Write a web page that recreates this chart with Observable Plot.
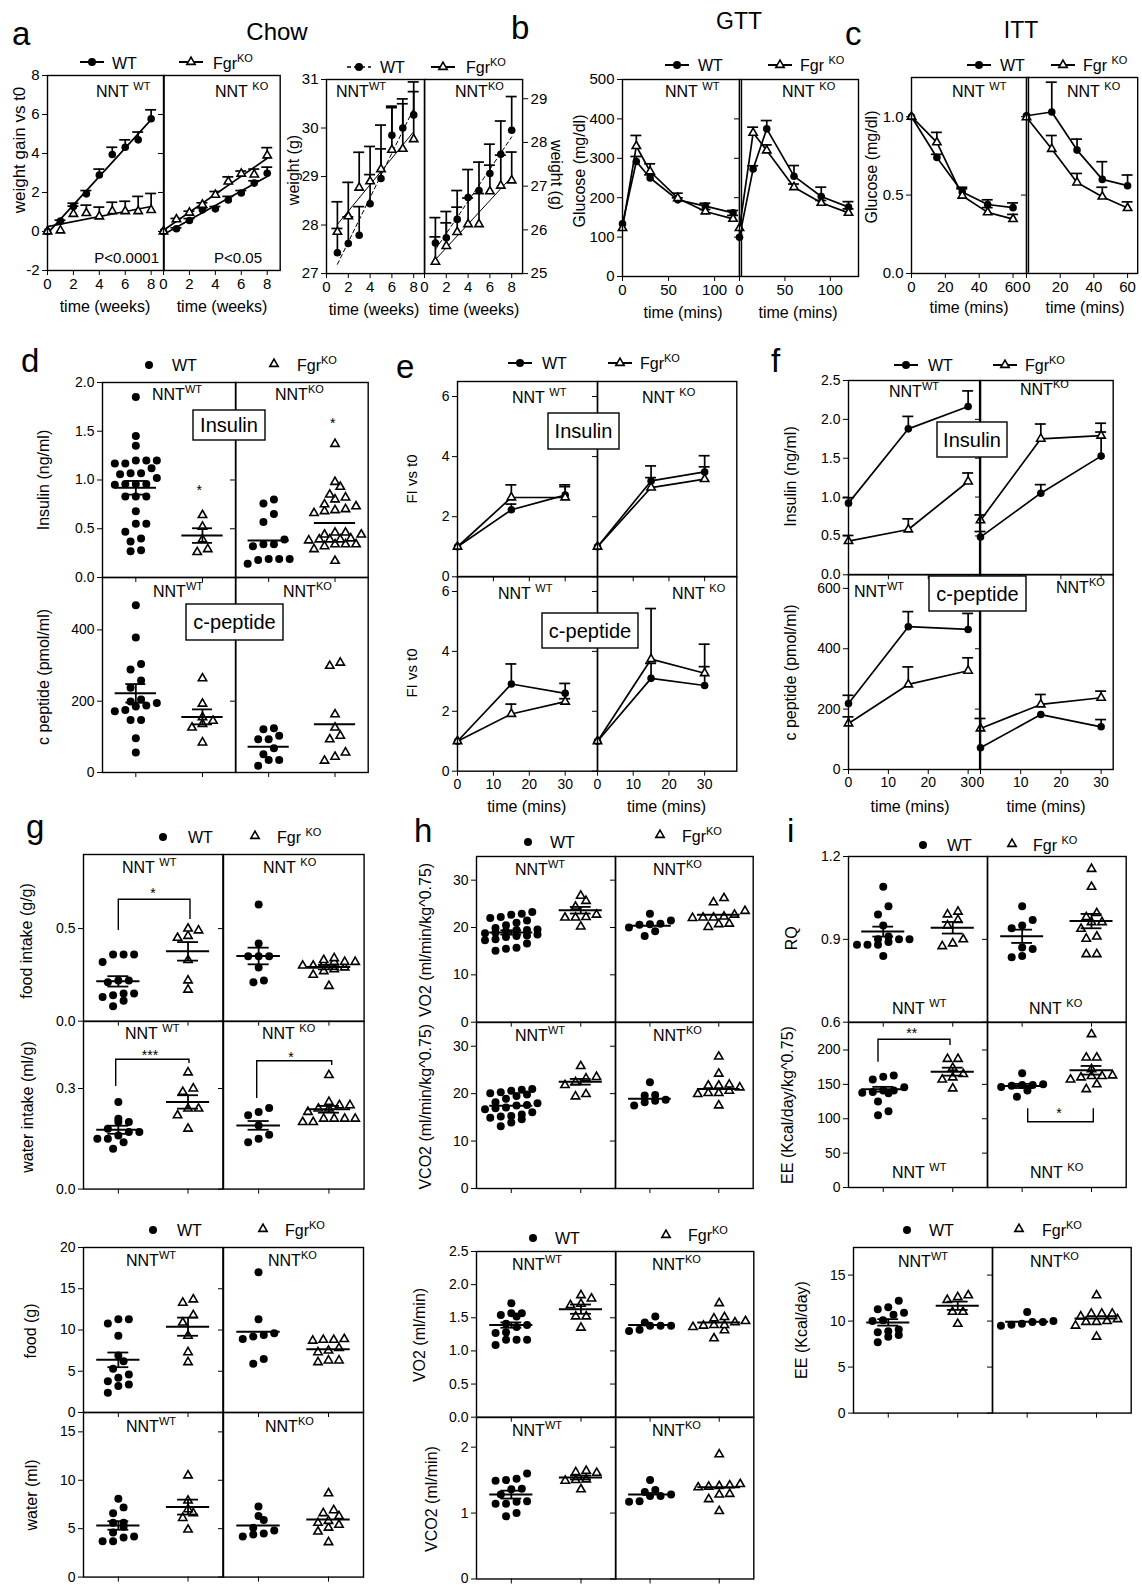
<!DOCTYPE html>
<html><head><meta charset="utf-8">
<script src="https://cdn.jsdelivr.net/npm/d3@7"></script>
<script src="https://cdn.jsdelivr.net/npm/@observablehq/plot@0.6"></script>
<style>
body{margin:0;background:#fff;}
#fig{position:relative;width:1142px;height:1585px;overflow:hidden;background:#fff;}
#fig svg{position:absolute;}
</style></head><body><div id="fig"></div>
<script>
// ================= DATA =================
// naming: n = NNT genotype, f = Fgr genotype ; KO = knockout
// a — weight gain vs t0 (mean, SEM), weeks
const weeks = [0,1,2,3,4,5,6,7,8];
const gain_nWT_fWT = [0,0.53,1.28,1.93,2.9,3.95,4.32,4.7,5.78];
const gain_nWT_fWTsem = [0,0.05,0.17,0.17,0.3,0.37,0.38,0.4,0.46];
const gain_nWT_fKO = [0,0.05,0.9,0.94,0.77,1.04,1.04,1.04,1.1];
const gain_nWT_fKOsem = [0,0,0.4,0.41,0.48,0.46,0.51,0.76,0.85];
const gain_nKO_fWT = [0,0.14,0.56,1.11,1.16,1.62,1.97,2.48,2.99];
const gain_nKO_fWTsem = [0,0.05,0.1,0.1,0.12,0.18,0.13,0.12,0.31];
const gain_nKO_fKO = [0,0.62,0.96,1.37,1.88,2.56,2.96,2.92,3.9];
const gain_nKO_fKOsem = [0,0.05,0.08,0.1,0.17,0.24,0.14,0.28,0.4];
// a — body weight (g)
const weeksW = [1,2,3,4,5,6,7,8];
const wt_nWT_fWT = [27.43,27.62,27.79,28.44,28.96,29.85,30.0,30.27];
const wt_nWT_fWTsem = [0.5,0.55,0.59,0.6,1.1,0.6,0.6,0.68];
const wt_nWT_fKO = [27.86,28.18,28.77,28.9,29.15,29.55,29.57,29.77];
const wt_nWT_fKOsem = [0.62,0.7,0.73,0.72,0.42,0.87,0.93,0.98];
const wt_nKO_fWT = [25.70,25.82,26.24,26.74,26.9,27.29,27.73,28.28];
const wt_nKO_fWTsem = [0.58,0.6,0.66,0.64,0.65,0.67,0.76,0.77];
const wt_nKO_fKO = [25.27,25.63,25.95,26.13,26.13,26.88,27.01,27.13];
const wt_nKO_fKOsem = [0.57,0.53,0.57,0.6,0.7,0.6,0.7,0.65];
// b — GTT glucose (mg/dl)
const gttMin = [0,15,30,60,90,120];
const gtt_nWT_fWT = [133.7,292,250,194.6,178.5,161.6];
const gtt_nWT_fWTsem = [0,12.6,8,5,7.5,6];
const gtt_nWT_fKO = [122.7,331,266.5,198.8,165,146.4];
const gtt_nWT_fKOsem = [0,27,19.5,12.7,5,8.6];
const gtt_nKO_fWT = [99.8,273,374.8,254.6,203,176];
const gtt_nKO_fWTsem = [0,8,21,27,23.7,14];
const gtt_nKO_fKO = [122.7,364.6,319.8,226.7,187,161.6];
const gtt_nKO_fKOsem = [0,14.4,14.2,8,6,10];
// c — ITT glucose (relative)
const ittMin = [0,15,30,45,60];
const itt_nWT_fWT = [1.0,0.74,0.52,0.44,0.42];
const itt_nWT_fWTsem = [0,0.02,0.02,0.03,0.03];
const itt_nWT_fKO = [1.0,0.836,0.496,0.39,0.347];
const itt_nWT_fKOsem = [0,0.064,0.054,0.03,0.03];
const itt_nKO_fWT = [1.006,1.03,0.787,0.6,0.56];
const itt_nKO_fWTsem = [0,0.19,0.07,0.113,0.068];
const itt_nKO_fKO = [0.996,0.794,0.58,0.49,0.417];
const itt_nKO_fKOsem = [0,0.086,0.058,0.06,0.04];
// e — fold increase vs t0
const secMin = [0,15,30];
const fiIns_nWT_fWT = [1,2.23,2.72], fiIns_nWT_fWTsem = [0,0.19,0.34];
const fiIns_nWT_fKO = [1,2.64,2.64], fiIns_nWT_fKOsem = [0,0.42,0.36];
const fiIns_nKO_fWT = [1,3.19,3.49], fiIns_nKO_fWTsem = [0,0.5,0.54];
const fiIns_nKO_fKO = [1,2.97,3.25], fiIns_nKO_fKOsem = [0,0.33,0.41];
const fiCp_nWT_fWT = [1,2.91,2.6], fiCp_nWT_fWTsem = [0,0.67,0.33];
const fiCp_nWT_fKO = [1,1.91,2.32], fiCp_nWT_fKOsem = [0,0.33,0.1];
const fiCp_nKO_fWT = [1,3.1,2.86], fiCp_nKO_fWTsem = [0,0.5,0.63];
const fiCp_nKO_fKO = [1,3.74,3.27], fiCp_nKO_fKOsem = [0,1.69,0.97];
// f — insulin (ng/ml) and c-peptide (pmol/ml) during GSIS
const secIns_nWT_fWT = [0.922,1.878,2.166], secIns_nWT_fWTsem = [0.07,0.16,0.2];
const secIns_nWT_fKO = [0.433,0.583,1.2], secIns_nWT_fKOsem = [0.073,0.137,0.11];
const secIns_nKO_fWT = [0.485,1.05,1.527], secIns_nKO_fWTsem = [0.072,0.11,0.31];
const secIns_nKO_fKO = [0.70,1.75,1.79], secIns_nKO_fKOsem = [0.07,0.19,0.16];
const secCp_nWT_fWT = [218.8,473,464], secCp_nWT_fWTsem = [27,50,53];
const secCp_nWT_fKO = [152.5,281.8,327], secCp_nWT_fKOsem = [22,58,43];
const secCp_nKO_fWT = [71.8,182,141.4], secCp_nKO_fWTsem = [0,0,24];
const secCp_nKO_fKO = [136,215.5,237.6], secCp_nKO_fKOsem = [33,33,22];
// group order for scatter summaries: [nWT_fWT, nWT_fKO, nKO_fWT, nKO_fKO]
// d — fasting insulin (ng/ml)
const ins_nWT_fWT = [1.85,1.45,1.35,1.20,1.17,1.17,1.20,1.20,1.07,1.06,1.07,1.12,1.02,0.96,0.95,0.96,0.96,0.83,0.83,0.83,0.68,0.55,0.55,0.47,0.40,0.37,0.27,0.28];
const ins_nWT_fKO = [0.64,0.52,0.39,0.26,0.29];
const ins_nKO_fWT = [0.80,0.76,0.65,0.57,0.39,0.34,0.34,0.32,0.19,0.19,0.18,0.19,0.14];
const ins_nKO_fKO = [1.37,0.98,0.93,0.85,0.82,0.80,0.75,0.73,0.70,0.69,0.68,0.66,0.46,0.46,0.44,0.44,0.40,0.39,0.39,0.38,0.39,0.34,0.34,0.32,0.34,0.29,0.17];
const ins_mean = [0.92,0.43,0.38,0.56], ins_sem = [0.07,0.075,0,0];
// d — fasting c-peptide (pmol/ml)
const cp_nWT_fWT = [469,379,304,289,258,238,205,199,195,188,185,175,172,147,147,96,56];
const cp_nWT_fKO = [264,193,155,136,126,145,84];
const cp_nKO_fWT = [124,121,103,93,93,68,51,35,35,19];
const cp_nKO_fKO = [308,299,163,126,103,93,56,44,33];
const cp_mean = [222,156,72,135], cp_sem = [26,21,0,0];
// g — food intake (g/g)
const fi_nWT_fWT = [0.36,0.36,0.36,0.32,0.22,0.22,0.21,0.15,0.15,0.14,0.13,0.11,0.08];
const fi_nWT_fKO = [0.5,0.49,0.46,0.45,0.33,0.22,0.17];
const fi_nKO_fWT = [0.63,0.42,0.35,0.35,0.35,0.29,0.21,0.22];
const fi_nKO_fKO = [0.34,0.33,0.32,0.32,0.32,0.31,0.30,0.30,0.29,0.28,0.27,0.25,0.19];
const fi_mean = [0.215,0.377,0.352,0.292], fi_sem = [0.028,0.05,0.045,0.012];
// g — water intake (ml/g)
const wi_nWT_fWT = [0.26,0.21,0.2,0.2,0.18,0.17,0.17,0.16,0.15,0.15,0.14,0.12];
const wi_nWT_fKO = [0.348,0.29,0.30,0.24,0.24,0.22,0.18];
const wi_nKO_fWT = [0.242,0.23,0.22,0.19,0.162,0.15,0.14];
const wi_nKO_fKO = [0.34,0.26,0.25,0.25,0.24,0.24,0.23,0.21,0.21,0.21,0.21,0.20,0.20];
const wi_mean = [0.177,0.26,0.19,0.238], wi_sem = [0.012,0.02,0.013,0.01];
// h — VO2 (ml/min/kg^0.75)
const vo2n_nWT_fWT = [23.3,22.9,22.7,22.2,22.0,21.5,21.0,20.5,19.9,19.6,19.5,19.5,19.2,18.9,18.8,18.5,18.3,18.2,18.0,17.5,17.3,16.6,15.7,15.5,15.1];
const vo2n_nWT_fKO = [26.7,25.6,24.4,22.7,22.1,22.1,22.2,20.2];
const vo2n_nKO_fWT = [22.9,21.5,20.8,20.7,20.6,20.0,19.2,18.2];
const vo2n_nKO_fKO = [26.2,25.3,23.5,22.7,22.3,22.1,22.1,22.0,20.8,20.7,20.1];
const vo2n_mean = [18.95,23.65,20.35,22.67], vo2n_sem = [0.45,0.7,0,0];
// h — VCO2 (ml/min/kg^0.75)
const vco2n_nWT_fWT = [21.0,20.8,20.6,20.3,20.1,19.8,19.5,18.9,18.2,18.0,17.6,17.5,17.1,16.9,16.7,16.1,15.6,15.3,15.2,14.9,14.6,13.9,13.1];
const vco2n_nWT_fKO = [25.8,23.5,23.2,22.4,21.8,19.9,19.4];
const vco2n_nKO_fWT = [22.4,19.7,19.6,18.7,18.5,18.2,17.5];
const vco2n_nKO_fKO = [27.8,24.2,21.9,21.7,21.7,21.3,20.6,20.1,20.1,19.9,17.5];
const vco2n_mean = [17.46,22.5,18.9,21.0], vco2n_sem = [0,0.6,0,0];
// i — RQ
const rq_nWT_fWT = [1.09,1.02,0.99,0.95,0.90,0.90,0.91,0.90,0.89,0.88,0.88,0.88,0.84];
const rq_nWT_fKO = [1.00,0.97,0.99,0.95,0.90,0.875,0.885];
const rq_nKO_fWT = [1.02,0.95,0.94,0.97,0.87,0.865,0.835,0.84];
const rq_nKO_fKO = [1.155,1.09,0.962,0.98,0.995,0.962,0.938,0.902,0.91,0.846,0.846];
const rq_mean = [0.928,0.942,0.911,0.966], rq_sem = [0.018,0.021,0.024,0.026];
// i — EE (Kcal/day/kg^0.75)
const een_nWT_fWT = [163,161,157,146,141,141,139,138,137,125,111,105];
const een_nWT_fKO = [187,187,174,165,157,160,144];
const een_nKO_fWT = [166,150,149,149,148,146,141,132];
const een_nKO_fKO = [223,189,189,163,162,162,160,157,150,143,172];
const een_mean = [142.9,168.5,147.7,170.5], een_sem = [3.5,5.8,3,6.3];
// bottom row — food (g), water (ml)
const food_nWT_fWT = [11.3,10.8,11.3,9.3,6.9,6.2,3.8,4.6,5.3,4.2,3.4,3.2,2.4];
const food_nWT_fKO = [13.7,13.3,11.8,10.9,9.3,7.3,6.1];
const food_nKO_fWT = [17.0,11.3,9.2,9.6,8.9,9.4,6.5,5.9];
const food_nKO_fKO = [8.7,8.9,8.8,8.8,7.3,7.5,7.8,6.1,6.3,6.3];
const food_mean = [6.38,10.4,9.78,7.68], food_sem = [0.89,1.1,0,0];
const water_nWT_fWT = [8.1,6.6,7.2,5.6,5.6,5.2,4.6,4.2,4.1,3.7,3.7];
const water_nWT_fKO = [10.5,7.9,7.0,6.6,6.1,4.9];
const water_nKO_fWT = [7.3,5.9,6.3,5.1,4.8,4.4,4.5,4.2];
const water_nKO_fKO = [8.65,6.6,6.3,6.9,5.8,5.1,5.6,5.4,4.7,3.6];
const water_mean = [5.33,7.23,5.33,5.94], water_sem = [0.44,0.77,0,0];
// bottom row — VO2 / VCO2 (ml/min)
const vo2_nWT_fWT = [1.72,1.57,1.52,1.54,1.57,1.28,1.41,1.36,1.39,1.27,1.17,1.17,1.17,1.09];
const vo2_nWT_fKO = [1.84,1.71,1.69,1.79,1.52,1.52,1.35];
const vo2_nKO_fWT = [1.52,1.32,1.38,1.38,1.43,1.30,1.38];
const vo2_nKO_fKO = [1.72,1.45,1.38,1.39,1.51,1.39,1.49,1.36,1.19,1.31,1.43];
const vo2_mean = [1.39,1.63,1.39,1.43], vo2_sem = [0.04,0.07,0,0];
const vco2_nWT_fWT = [1.60,1.50,1.49,1.52,1.36,1.37,1.28,1.14,1.14,1.18,1.17,0.95,1.0];
const vco2_nWT_fKO = [1.61,1.64,1.62,1.50,1.51,1.49,1.36];
const vco2_nKO_fWT = [1.50,1.35,1.18,1.28,1.26,1.26,1.32,1.17];
const vco2_nKO_fKO = [1.89,1.42,1.44,1.40,1.41,1.39,1.29,1.21,1.28,1.03];
const vco2_mean = [1.28,1.54,1.28,1.39], vco2_sem = [0.06,0.03,0,0];
// bottom row — EE (Kcal/day)
const ee_nWT_fWT = [12.2,11.3,11.5,10.9,10.7,10.0,10.1,9.1,8.9,8.8,8.5,8.3,7.7];
const ee_nWT_fKO = [12.6,12.8,12.3,11.0,11.0,9.7];
const ee_nKO_fWT = [11.0,9.7,10.0,9.9,9.9,9.5,9.6];
const ee_nKO_fKO = [12.8,10.8,10.8,10.8,10.5,10.2,9.9,10.0,9.9,9.5,8.3];
const ee_mean = [9.86,11.67,9.93,10.29], ee_sem = [0.35,0.45,0,0];

// ================= DRAWING =================
const FONT = "'Liberation Sans', Arial, Helvetica, sans-serif";
const fig = document.getElementById("fig");
const f1 = d3.format(".1f");

function framePlot(o) {
  const M = 50;
  const [left, top, w, h] = o.box;
  const p = Plot.plot({
    width: w + 2 * M, height: h + 2 * M,
    marginLeft: M, marginRight: M, marginTop: M, marginBottom: M,
    style: {background: "none", overflow: "visible", fontFamily: FONT, fontSize: (o.fs || 14) + "px", color: "#000"},
    x: o.xt ? {domain: o.xd, ticks: o.xt, tickSize: 5, tickPadding: 3, label: null,
               tickFormat: o.xl ? (d => String(d)) : () => ""} : {domain: o.xd, axis: null},
    y: {domain: o.yd, ticks: o.yt, tickSize: 5, tickPadding: 3, label: null, axis: o.yAxis || "left",
        tickFormat: o.yl ? (o.yf || (d => String(d))) : () => ""},
    marks: [...o.marks, Plot.frame({stroke: "#000", strokeWidth: 1.4})]
  });
  p.style.left = (left - M) + "px";
  p.style.top = (top - M) + "px";
  fig.appendChild(p);
}

// scatter-dot layout: values that fall within one row height are spread symmetrically side by side
function swarm(vals, cat, yd, h, pxPerX, step, rowH, maxCols) {
  const sy = v => (v - yd[0]) / (yd[1] - yd[0]) * h;
  const s = vals.map(v => ({v, y: sy(v)})).sort((a, b) => a.y - b.y);
  const out = [];
  let i = 0;
  while (i < s.length) {
    let j = i;
    while (j < s.length && s[j].y - s[i].y < rowH && j - i < maxCols) j++;
    const n = j - i;
    s.slice(i, j).forEach((p, k) => out.push({v: p.v, x: cat + (k - (n - 1) / 2) * step / pxPerX}));
    i = j;
  }
  return out;
}

function dotMark(data, x, y, sym, r) {
  return sym === "circle"
    ? Plot.dot(data, {x, y, symbol: "circle", r: r || 4, fill: "#000", stroke: "none"})
    : Plot.dot(data, {x, y, symbol: "triangle", r: r || 3.1, fill: "#fff", stroke: "#000", strokeWidth: 1.6});
}

function scatterFrame(box, yd, yt, yl, yf, groups) {
  const [left, top, w, h] = box;
  const marks = [];
  for (const g of groups) {
    const pts = swarm(g.vals, g.cat, yd, h, w / 4, 10.5, 8.5, 6);
    marks.push(dotMark(pts, "x", "v", g.sym));
  }
  for (const g of groups) {
    marks.push(Plot.ruleY([g.mean], {x1: g.cat - 0.62, x2: g.cat + 0.62, strokeWidth: 2}));
    if (g.sem > 0) {
      marks.push(Plot.ruleX([g.cat], {y1: g.mean - g.sem, y2: g.mean + g.sem, strokeWidth: 1.8}));
      marks.push(Plot.ruleY([g.mean - g.sem, g.mean + g.sem], {x1: g.cat - 0.3, x2: g.cat + 0.3, strokeWidth: 1.8}));
    }
  }
  framePlot({box, xd: [0, 4], xt: [1, 3], xl: false, yd, yt, yl, yf, marks});
}

function scatterPair(boxL, boxR, yd, yt, yf, g, means, sems) {
  scatterFrame(boxL, yd, yt, true, yf, [
    {vals: g[0], mean: means[0], sem: sems[0], cat: 1, sym: "circle"},
    {vals: g[1], mean: means[1], sem: sems[1], cat: 3, sym: "triangle"}]);
  scatterFrame(boxR, yd, yt, false, yf, [
    {vals: g[2], mean: means[2], sem: sems[2], cat: 1, sym: "circle"},
    {vals: g[3], mean: means[3], sem: sems[3], cat: 3, sym: "triangle"}]);
}

function linreg(xs, ys) {
  const mx = d3.mean(xs), my = d3.mean(ys);
  const b = d3.sum(xs, (x, i) => (x - mx) * (ys[i] - my)) / d3.sum(xs, x => (x - mx) ** 2);
  return [my - b * mx, b];
}

function lineFrame(o) {
  const [left, top, w, h] = o.box;
  const cap = 5.5 * (o.xd[1] - o.xd[0]) / w;
  const marks = [];
  for (const s of o.series) {
    const pts = s.x.map((x, i) => ({x, y: s.y[i], t: s.y[i] + s.s[i]}));
    if (s.fit) {
      const [a, b] = linreg(s.x, s.y);
      const ext = d3.extent(s.x);
      marks.push(Plot.line(ext.map(x => ({x, y: a + b * x})), {x: "x", y: "y", strokeWidth: s.fitW || 1.7, strokeDasharray: s.dash}));
    } else {
      marks.push(Plot.line(pts, {x: "x", y: "y", strokeWidth: 1.7}));
    }
    const eb = pts.filter(p => p.t > p.y);
    marks.push(Plot.ruleX(eb, {x: "x", y1: "y", y2: "t", strokeWidth: 1.7}));
    marks.push(Plot.ruleY(eb, {y: "t", x1: p => p.x - cap, x2: p => p.x + cap, strokeWidth: 1.7}));
  }
  for (const s of o.series) {
    const pts = s.x.map((x, i) => ({x, y: s.y[i]}));
    marks.push(dotMark(pts, "x", "y", s.sym, s.sym === "circle" ? 3.8 : 3.1));
  }
  framePlot({...o, marks});
}
const S = (x, y, s, sym, extra) => ({x, y, s, sym, ...(extra || {})});

// ---- a: weight gain ----
const xa = {xd: [0, 9], xt: [0, 2, 4, 6, 8], xl: true, fs: 15};
lineFrame({...xa, box: [46.7, 75, 116.6, 195], yd: [-2, 8], yt: [-2, 0, 2, 4, 6, 8], yl: true, series: [
  S(weeks, gain_nWT_fWT, gain_nWT_fWTsem, "circle", {fit: true}),
  S(weeks, gain_nWT_fKO, gain_nWT_fKOsem, "triangle", {fit: true})]});
lineFrame({...xa, box: [163.3, 75, 116.7, 195], yd: [-2, 8], yt: [-2, 0, 2, 4, 6, 8], yl: false, series: [
  S(weeks, gain_nKO_fWT, gain_nKO_fWTsem, "circle", {fit: true}),
  S(weeks, gain_nKO_fKO, gain_nKO_fKOsem, "triangle", {fit: true})]});
// ---- a: body weight ----
lineFrame({...xa, box: [326.2, 79.2, 98.1, 194.1], yd: [27, 31], yt: [27, 28, 29, 30, 31], yl: true, series: [
  S(weeksW, wt_nWT_fWT, wt_nWT_fWTsem, "circle", {fit: true, fitW: 1, dash: "4,3"}),
  S(weeksW, wt_nWT_fKO, wt_nWT_fKOsem, "triangle", {fit: true, fitW: 1})]});
lineFrame({...xa, box: [424.3, 79.2, 98.1, 194.1], yd: [25, 29.44], yt: [25, 26, 27, 28, 29], yl: true, yAxis: "right", series: [
  S(weeksW, wt_nKO_fWT, wt_nKO_fWTsem, "circle", {fit: true, fitW: 1, dash: "4,3"}),
  S(weeksW, wt_nKO_fKO, wt_nKO_fKOsem, "triangle", {fit: true, fitW: 1})]});
// ---- b: GTT ----
lineFrame({box: [622, 79, 117, 197], xd: [0, 127], xt: [0, 50, 100], xl: true, fs: 15, yd: [0, 500], yt: [0, 100, 200, 300, 400, 500], yl: true, series: [
  S(gttMin, gtt_nWT_fWT, gtt_nWT_fWTsem, "circle"), S(gttMin, gtt_nWT_fKO, gtt_nWT_fKOsem, "triangle")]});
lineFrame({box: [739, 79, 119, 197], xd: [0, 131], xt: [0, 50, 100], xl: true, fs: 15, yd: [0, 500], yt: [0, 100, 200, 300, 400, 500], yl: false, series: [
  S(gttMin, gtt_nKO_fWT, gtt_nKO_fWTsem, "circle"), S(gttMin, gtt_nKO_fKO, gtt_nKO_fKOsem, "triangle")]});
// ---- c: ITT ----
lineFrame({box: [910.7, 76.7, 115.1, 196], xd: [0, 68], xt: [0, 20, 40, 60], xl: true, fs: 15, yd: [0, 1.25], yt: [0, 0.5, 1], yf: f1, yl: true, series: [
  S(ittMin, itt_nWT_fWT, itt_nWT_fWTsem, "circle"), S(ittMin, itt_nWT_fKO, itt_nWT_fKOsem, "triangle")]});
lineFrame({box: [1025.8, 76.7, 111.2, 196], xd: [0, 66], xt: [0, 20, 40, 60], xl: true, fs: 15, yd: [0, 1.25], yt: [0, 0.5, 1], yl: false, series: [
  S(ittMin, itt_nKO_fWT, itt_nKO_fWTsem, "circle"), S(ittMin, itt_nKO_fKO, itt_nKO_fKOsem, "triangle")]});
// ---- d ----
scatterPair([101.7, 381.7, 133.3, 195], [235, 381.7, 132.7, 195], [0, 2], [0, 0.5, 1, 1.5, 2], f1,
  [ins_nWT_fWT, ins_nWT_fKO, ins_nKO_fWT, ins_nKO_fKO], ins_mean, ins_sem);
scatterPair([101.7, 576.7, 133.3, 195], [235, 576.7, 132.7, 195], [0, 547], [0, 200, 400], null,
  [cp_nWT_fWT, cp_nWT_fKO, cp_nKO_fWT, cp_nKO_fKO], cp_mean, cp_sem);
// ---- e ----
const xe = {xd: [0, 39], xt: [0, 10, 20, 30], yd: [0, 6.5], yt: [0, 2, 4, 6]};
lineFrame({...xe, box: [456.7, 380.7, 140, 195.3], xl: false, yl: true, series: [
  S(secMin, fiIns_nWT_fWT, fiIns_nWT_fWTsem, "circle"), S(secMin, fiIns_nWT_fKO, fiIns_nWT_fKOsem, "triangle")]});
lineFrame({...xe, box: [596.7, 380.7, 139.3, 195.3], xl: false, yl: false, series: [
  S(secMin, fiIns_nKO_fWT, fiIns_nKO_fWTsem, "circle"), S(secMin, fiIns_nKO_fKO, fiIns_nKO_fKOsem, "triangle")]});
lineFrame({...xe, box: [456.7, 576, 140, 194.7], xl: true, yl: true, series: [
  S(secMin, fiCp_nWT_fWT, fiCp_nWT_fWTsem, "circle"), S(secMin, fiCp_nWT_fKO, fiCp_nWT_fKOsem, "triangle")]});
lineFrame({...xe, box: [596.7, 576, 139.3, 194.7], xl: true, yl: false, series: [
  S(secMin, fiCp_nKO_fWT, fiCp_nKO_fWTsem, "circle"), S(secMin, fiCp_nKO_fKO, fiCp_nKO_fKOsem, "triangle")]});
// ---- f ----
const xf = {xd: [0, 33], xt: [0, 10, 20, 30]};
lineFrame({...xf, box: [847.7, 380, 131.6, 194.3], xl: false, yd: [0, 2.5], yt: [0, 0.5, 1, 1.5, 2, 2.5], yf: f1, yl: true, series: [
  S(secMin, secIns_nWT_fWT, secIns_nWT_fWTsem, "circle"), S(secMin, secIns_nWT_fKO, secIns_nWT_fKOsem, "triangle")]});
lineFrame({...xf, box: [980, 380, 132.7, 194.3], xl: false, yd: [0, 2.5], yt: [0, 0.5, 1, 1.5, 2, 2.5], yl: false, series: [
  S(secMin, secIns_nKO_fWT, secIns_nKO_fWTsem, "circle"), S(secMin, secIns_nKO_fKO, secIns_nKO_fKOsem, "triangle")]});
lineFrame({...xf, box: [847.7, 574.3, 131.6, 195], xl: true, yd: [0, 646], yt: [0, 200, 400, 600], yl: true, series: [
  S(secMin, secCp_nWT_fWT, secCp_nWT_fWTsem, "circle"), S(secMin, secCp_nWT_fKO, secCp_nWT_fKOsem, "triangle")]});
lineFrame({...xf, box: [980, 574.3, 132.7, 195], xl: true, yd: [0, 646], yt: [0, 200, 400, 600], yl: false, series: [
  S(secMin, secCp_nKO_fWT, secCp_nKO_fWTsem, "circle"), S(secMin, secCp_nKO_fKO, secCp_nKO_fKOsem, "triangle")]});
// ---- g ----
scatterPair([83.3, 854, 139.4, 166.7], [222.7, 854, 140.6, 166.7], [0, 0.9], [0, 0.5], f1,
  [fi_nWT_fWT, fi_nWT_fKO, fi_nKO_fWT, fi_nKO_fKO], fi_mean, fi_sem);
scatterPair([83.3, 1020.7, 139.4, 167.6], [222.7, 1020.7, 140.6, 167.6], [0, 0.5], [0, 0.3], f1,
  [wi_nWT_fWT, wi_nWT_fKO, wi_nKO_fWT, wi_nKO_fKO], wi_mean, wi_sem);
// ---- h ----
scatterPair([476, 856, 139, 165.7], [615, 856, 137.7, 165.7], [0, 35], [0, 10, 20, 30], null,
  [vo2n_nWT_fWT, vo2n_nWT_fKO, vo2n_nKO_fWT, vo2n_nKO_fKO], vo2n_mean, vo2n_sem);
scatterPair([476, 1021.7, 139, 166], [615, 1021.7, 137.7, 166], [0, 35], [0, 10, 20, 30], null,
  [vco2n_nWT_fWT, vco2n_nWT_fKO, vco2n_nKO_fWT, vco2n_nKO_fKO], vco2n_mean, vco2n_sem);
// ---- i ----
scatterPair([848.3, 856, 139, 165.7], [987.3, 856, 138.7, 165.7], [0.6, 1.2], [0.6, 0.9, 1.2], f1,
  [rq_nWT_fWT, rq_nWT_fKO, rq_nKO_fWT, rq_nKO_fKO], rq_mean, rq_sem);
scatterPair([848.3, 1021.7, 139, 165], [987.3, 1021.7, 138.7, 165], [0, 240], [0, 50, 100, 150, 200], null,
  [een_nWT_fWT, een_nWT_fKO, een_nKO_fWT, een_nKO_fKO], een_mean, een_sem);
// ---- bottom row ----
scatterPair([83.3, 1246.7, 139.4, 165], [222.7, 1246.7, 140, 165], [0, 20], [0, 5, 10, 15, 20], null,
  [food_nWT_fWT, food_nWT_fKO, food_nKO_fWT, food_nKO_fKO], food_mean, food_sem);
scatterPair([83.3, 1411.7, 139.4, 164.6], [222.7, 1411.7, 140, 164.6], [0, 17], [0, 5, 10, 15], null,
  [water_nWT_fWT, water_nWT_fKO, water_nKO_fWT, water_nKO_fKO], water_mean, water_sem);
scatterPair([475.7, 1251, 139.3, 165.7], [615, 1251, 138.3, 165.7], [0, 2.5], [0, 0.5, 1, 1.5, 2, 2.5], f1,
  [vo2_nWT_fWT, vo2_nWT_fKO, vo2_nKO_fWT, vo2_nKO_fKO], vo2_mean, vo2_sem);
scatterPair([475.7, 1416.7, 139.3, 161.5], [615, 1416.7, 138.3, 161.5], [0, 2.45], [0, 1, 2], null,
  [vco2_nWT_fWT, vco2_nWT_fKO, vco2_nKO_fWT, vco2_nKO_fKO], vco2_mean, vco2_sem);
scatterPair([853.3, 1246.7, 139, 165.6], [992.3, 1246.7, 138.7, 165.6], [0, 18], [0, 5, 10, 15], null,
  [ee_nWT_fWT, ee_nWT_fKO, ee_nKO_fWT, ee_nKO_fKO], ee_mean, ee_sem);

// ================= ANNOTATION LAYER =================
const ov = d3.select(fig).append("svg").attr("width", 1142).attr("height", 1585)
  .style("left", "0px").style("top", "0px").attr("font-family", FONT).attr("fill", "#000");
function T(x, y, s, size, anchor) {
  return ov.append("text").attr("x", x).attr("y", y).attr("font-size", size).attr("text-anchor", anchor || "start").text(s);
}
function TS(x, y, base, sup, size, space) {
  const t = ov.append("text").attr("x", x).attr("y", y).attr("font-size", size);
  t.append("tspan").text(base + (space ? "\u00A0" : ""));
  t.append("tspan").attr("dy", -size * 0.42).attr("font-size", Math.round(size * 0.7)).text(sup);
  return t;
}
function VT(x, y, s, size, rot) {
  ov.append("text").attr("transform", `translate(${x},${y}) rotate(${rot || -90})`)
    .attr("text-anchor", "middle").attr("dy", "0.35em").attr("font-size", size).text(s);
}
function marker(cx, cy, sym) {
  if (sym === "circle") ov.append("circle").attr("cx", cx).attr("cy", cy).attr("r", 4).attr("fill", "#000");
  else ov.append("path").attr("d", d3.symbol(d3.symbolTriangle, Math.PI * 3.1 * 3.1)())
    .attr("transform", `translate(${cx},${cy})`).attr("fill", "#fff").attr("stroke", "#000").attr("stroke-width", 1.6);
}
function lineSym(cx, cy, sym, dash) {
  ov.append("line").attr("x1", cx - 12).attr("x2", cx + 12).attr("y1", cy).attr("y2", cy)
    .attr("stroke", "#000").attr("stroke-width", dash ? 1.3 : 2).attr("stroke-dasharray", dash ? "4,3" : null);
  marker(cx, cy, sym);
}
function box(x, y, w, h, s) {
  ov.append("rect").attr("x", x).attr("y", y).attr("width", w).attr("height", h)
    .attr("fill", "#fff").attr("stroke", "#000").attr("stroke-width", 1.4);
  T(x + w / 2, y + h / 2 + 7, s, 20, "middle");
}
function bracket(d) { ov.append("path").attr("d", d).attr("fill", "none").attr("stroke", "#000").attr("stroke-width", 1.4); }
function vline(x, y1, y2, w) { ov.append("line").attr("x1", x).attr("x2", x).attr("y1", y1).attr("y2", y2).attr("stroke", "#000").attr("stroke-width", w || 1.4); }

// panel letters
[["a", 12, 45], ["b", 511, 39], ["c", 845, 45], ["d", 21, 372], ["e", 396, 378], ["f", 771, 372],
 ["g", 26, 838], ["h", 414, 842], ["i", 787, 842]].forEach(([s, x, y]) => T(x, y, s, 33));
// titles
T(277, 39.5, "Chow", 24, "middle");
T(739, 28.5, "GTT", 23, "middle");
T(1021, 38, "ITT", 23, "middle");
// legends
lineSym(92, 62, "circle"); T(112, 68.5, "WT", 16); lineSym(191, 62, "triangle"); TS(213, 68.5, "Fgr", "KO", 16);
lineSym(359, 67, "circle", true); T(380, 73, "WT", 16); lineSym(443, 67, "triangle"); TS(466, 73, "Fgr", "KO", 16);
lineSym(677, 65, "circle"); T(698, 71, "WT", 16); lineSym(780, 65, "triangle"); TS(800, 71, "Fgr", "KO", 16, true);
lineSym(979, 65, "circle"); T(1000, 71, "WT", 16); lineSym(1063, 65, "triangle"); TS(1083, 71, "Fgr", "KO", 16, true);
marker(149, 365, "circle"); T(172, 371, "WT", 16); marker(274, 364, "triangle"); TS(297, 371, "Fgr", "KO", 16);
lineSym(520, 363, "circle"); T(542, 369, "WT", 16); lineSym(620, 363, "triangle"); TS(640, 369, "Fgr", "KO", 16);
lineSym(906, 365, "circle"); T(928, 371, "WT", 16); lineSym(1005, 365, "triangle"); TS(1025, 371, "Fgr", "KO", 16);
marker(163, 837, "circle"); T(188, 843, "WT", 16); marker(255, 836, "triangle"); TS(277, 843, "Fgr", "KO", 16, true);
marker(528, 842, "circle"); T(550, 848, "WT", 16); marker(660, 835, "triangle"); TS(682, 842, "Fgr", "KO", 16);
marker(923, 845, "circle"); T(947, 851, "WT", 16); marker(1012, 844, "triangle"); TS(1033, 851, "Fgr", "KO", 16, true);
marker(153, 1230, "circle"); T(177, 1236, "WT", 16); marker(263, 1229, "triangle"); TS(285, 1236, "Fgr", "KO", 16);
marker(533, 1238, "circle"); T(555, 1244, "WT", 16); marker(666, 1235, "triangle"); TS(688, 1241, "Fgr", "KO", 16);
marker(907, 1230, "circle"); T(929, 1236, "WT", 16); marker(1019, 1229, "triangle"); TS(1042, 1236, "Fgr", "KO", 16);
// NNT labels [x, baseline, sup, space]
[[96, 97, "WT", 1], [215, 97, "KO", 1], [336, 97, "WT"], [455, 97, "KO"], [665, 97, "WT", 1], [782, 97, "KO", 1],
 [952, 97, "WT", 1], [1067, 97, "KO", 1],
 [152, 400, "WT"], [275, 400, "KO"], [153, 597, "WT"], [283, 597, "KO"],
 [512, 403, "WT", 1], [642, 403, "KO", 1], [498, 599, "WT", 1], [672, 599, "KO", 1],
 [889, 397, "WT"], [1020, 395, "KO"], [854, 597, "WT"], [1056, 593, "KO"],
 [122, 873, "WT", 1], [263, 873, "KO", 1], [125, 1039, "WT", 1], [262, 1039, "KO", 1],
 [515, 875, "WT"], [653, 875, "KO"], [515, 1041, "WT"], [653, 1041, "KO"],
 [892, 1014, "WT", 1], [1029, 1014, "KO", 1], [892, 1178, "WT", 1], [1030, 1178, "KO", 1],
 [126, 1266, "WT"], [268, 1266, "KO"], [126, 1432, "WT"], [265, 1432, "KO"],
 [512, 1270, "WT"], [652, 1270, "KO"], [512, 1436, "WT"], [652, 1436, "KO"],
 [898, 1267, "WT"], [1030, 1267, "KO"]].forEach(([x, y, s, sp]) => TS(x, y, "NNT", s, 16, !!sp));
// axis titles
VT(19, 150, "weight gain vs t0", 17); VT(293, 170, "weight (g)", 16); VT(557, 175, "weight (g)", 16, 90);
VT(579.5, 171, "Glucose (mg/dl)", 16); VT(871, 167, "Glucose (mg/dl)", 16);
VT(43.3, 480, "Insulin (ng/ml)", 16); VT(43.3, 677, "c peptide (pmol/ml)", 16);
VT(412, 479, "FI vs t0", 15); VT(412, 673, "FI vs t0", 15);
VT(790, 476.5, "Insulin (ng/ml)", 16); VT(790, 672.5, "c peptide (pmol/ml)", 16);
VT(26, 941, "food intake (g/g)", 16); VT(27.5, 1107, "water intake (ml/g)", 16);
VT(425.8, 940, "VO2 (ml/min/kg^0.75)", 16); VT(425.8, 1106.7, "VCO2 (ml/min/kg^0.75)", 16);
VT(791, 938.3, "RQ", 16); VT(787, 1105, "EE (Kcal/day/kg^0.75)", 16);
VT(30, 1331, "food (g)", 16); VT(31.7, 1495, "water (ml)", 16);
VT(419, 1335, "VO2 (ml/min)", 16); VT(431, 1499, "VCO2 (ml/min)", 16);
VT(801, 1330, "EE (Kcal/day)", 16);
[[105, 312, "time (weeks)"], [222, 312, "time (weeks)"], [374, 315, "time (weeks)"], [474, 315, "time (weeks)"],
 [683, 318, "time (mins)"], [798, 318, "time (mins)"], [969, 313, "time (mins)"], [1085, 313, "time (mins)"],
 [526.7, 812, "time (mins)"], [666.5, 812, "time (mins)"], [910, 812, "time (mins)"], [1046, 812, "time (mins)"]]
  .forEach(([x, y, s]) => T(x, y, s, 16, "middle"));
// p values, stars, brackets, boxes
T(159, 263, "P<0.0001", 15, "end"); T(262, 263, "P<0.05", 15, "end");
T(199.3, 495, "*", 14, "middle"); T(332.7, 428, "*", 14, "middle");
bracket("M118.3,930 V899.3 H190 V919"); T(153, 898, "*", 14, "middle");
bracket("M115.7,1086 V1059.3 H189 V1063"); T(150, 1060, "***", 14, "middle");
bracket("M256.7,1098 V1060.7 H331.7 V1065"); T(291, 1062, "*", 14, "middle");
bracket("M878,1061.7 V1039.3 H950 V1045"); T(911.7, 1038, "**", 14, "middle");
bracket("M1027.7,1108.3 V1121.7 H1093.3 V1108.3"); T(1059, 1118, "*", 14, "middle");
vline(741.6, 79, 276, 1.2); vline(1028.6, 76.7, 272.7, 1.2); vline(980, 380, 769.3, 2.2);
box(193, 410, 72, 30, "Insulin"); box(186, 604, 97, 36, "c-peptide");
box(548, 413, 71, 36, "Insulin"); box(542, 613, 96, 35, "c-peptide");
box(937, 422, 70, 35, "Insulin"); box(929, 576, 97, 35, "c-peptide");
</script></body></html>
